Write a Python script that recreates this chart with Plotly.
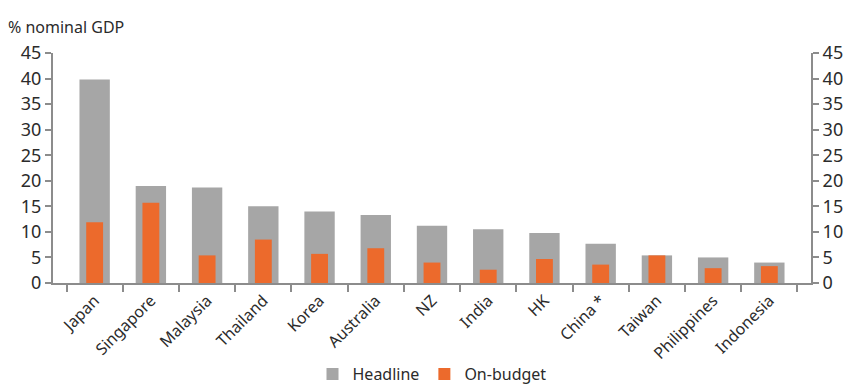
import plotly.graph_objects as go

# Fiscal stimulus packages, % of nominal GDP
countries = ["Japan", "Singapore", "Malaysia", "Thailand", "Korea", "Australia",
             "NZ", "India", "HK", "China *", "Taiwan", "Philippines", "Indonesia"]
headline = [39.8, 19.0, 18.7, 15.0, 14.0, 13.3, 11.2, 10.5, 9.8, 7.7, 5.4, 5.0, 4.0]
on_budget = [11.9, 15.7, 5.4, 8.5, 5.7, 6.8, 4.0, 2.6, 4.7, 3.6, 5.4, 2.9, 3.3]

y_ticks = [0, 5, 10, 15, 20, 25, 30, 35, 40, 45]

GREY = "#a6a6a6"
ORANGE = "#ec6a2c"
AXIS = "#8c8c8c"
TEXT = "#2b2b2b"
FONT = "Noto Sans"

fig = go.Figure()
fig.add_trace(go.Bar(x=countries, y=headline, name="Headline",
                     marker=dict(color=GREY, line=dict(width=0)), width=0.54))
fig.add_trace(go.Bar(x=countries, y=on_budget, name="On-budget",
                     marker=dict(color=ORANGE, line=dict(width=0)), width=0.30))
# invisible trace so the right-hand axis is drawn
fig.add_trace(go.Scatter(x=countries, y=headline, yaxis="y2", mode="markers",
                         marker=dict(opacity=0), showlegend=False, hoverinfo="skip"))

yaxis_common = dict(range=[0, 45], tickvals=y_ticks, showgrid=False, zeroline=False,
                    showline=True, linecolor=AXIS, linewidth=2, ticks="outside",
                    ticklen=6, tickwidth=2, tickcolor=AXIS, automargin=False,
                    tickfont=dict(size=18, color=TEXT, family=FONT))

fig.update_layout(
    width=849, height=387,
    margin=dict(l=53, r=38, t=53, b=104),
    paper_bgcolor="white", plot_bgcolor="white",
    barmode="overlay",
    font=dict(family=FONT, color=TEXT),
    title=dict(text="% nominal GDP", xref="container", yref="container",
               x=8 / 849, y=1 - 27 / 387, xanchor="left", yanchor="middle",
               font=dict(size=16, color=TEXT, family=FONT)),
    xaxis=dict(showgrid=False, showline=True, linecolor=AXIS, linewidth=2,
               ticks="outside", tickson="boundaries", ticklen=7, tickwidth=1.5,
               tickcolor=AXIS, tickangle=-45, automargin=False,
               tickfont=dict(size=16, color=TEXT, family=FONT)),
    yaxis=dict(side="left", **yaxis_common),
    yaxis2=dict(side="right", overlaying="y", **yaxis_common),
    legend=dict(orientation="h", x=0.5, xanchor="center",
                yref="container", y=13 / 387, yanchor="middle",
                font=dict(size=16, color=TEXT, family=FONT), itemwidth=30,
                tracegroupgap=0, bgcolor="rgba(0,0,0,0)"),
    showlegend=True,
)

fig.write_html("out.html")
